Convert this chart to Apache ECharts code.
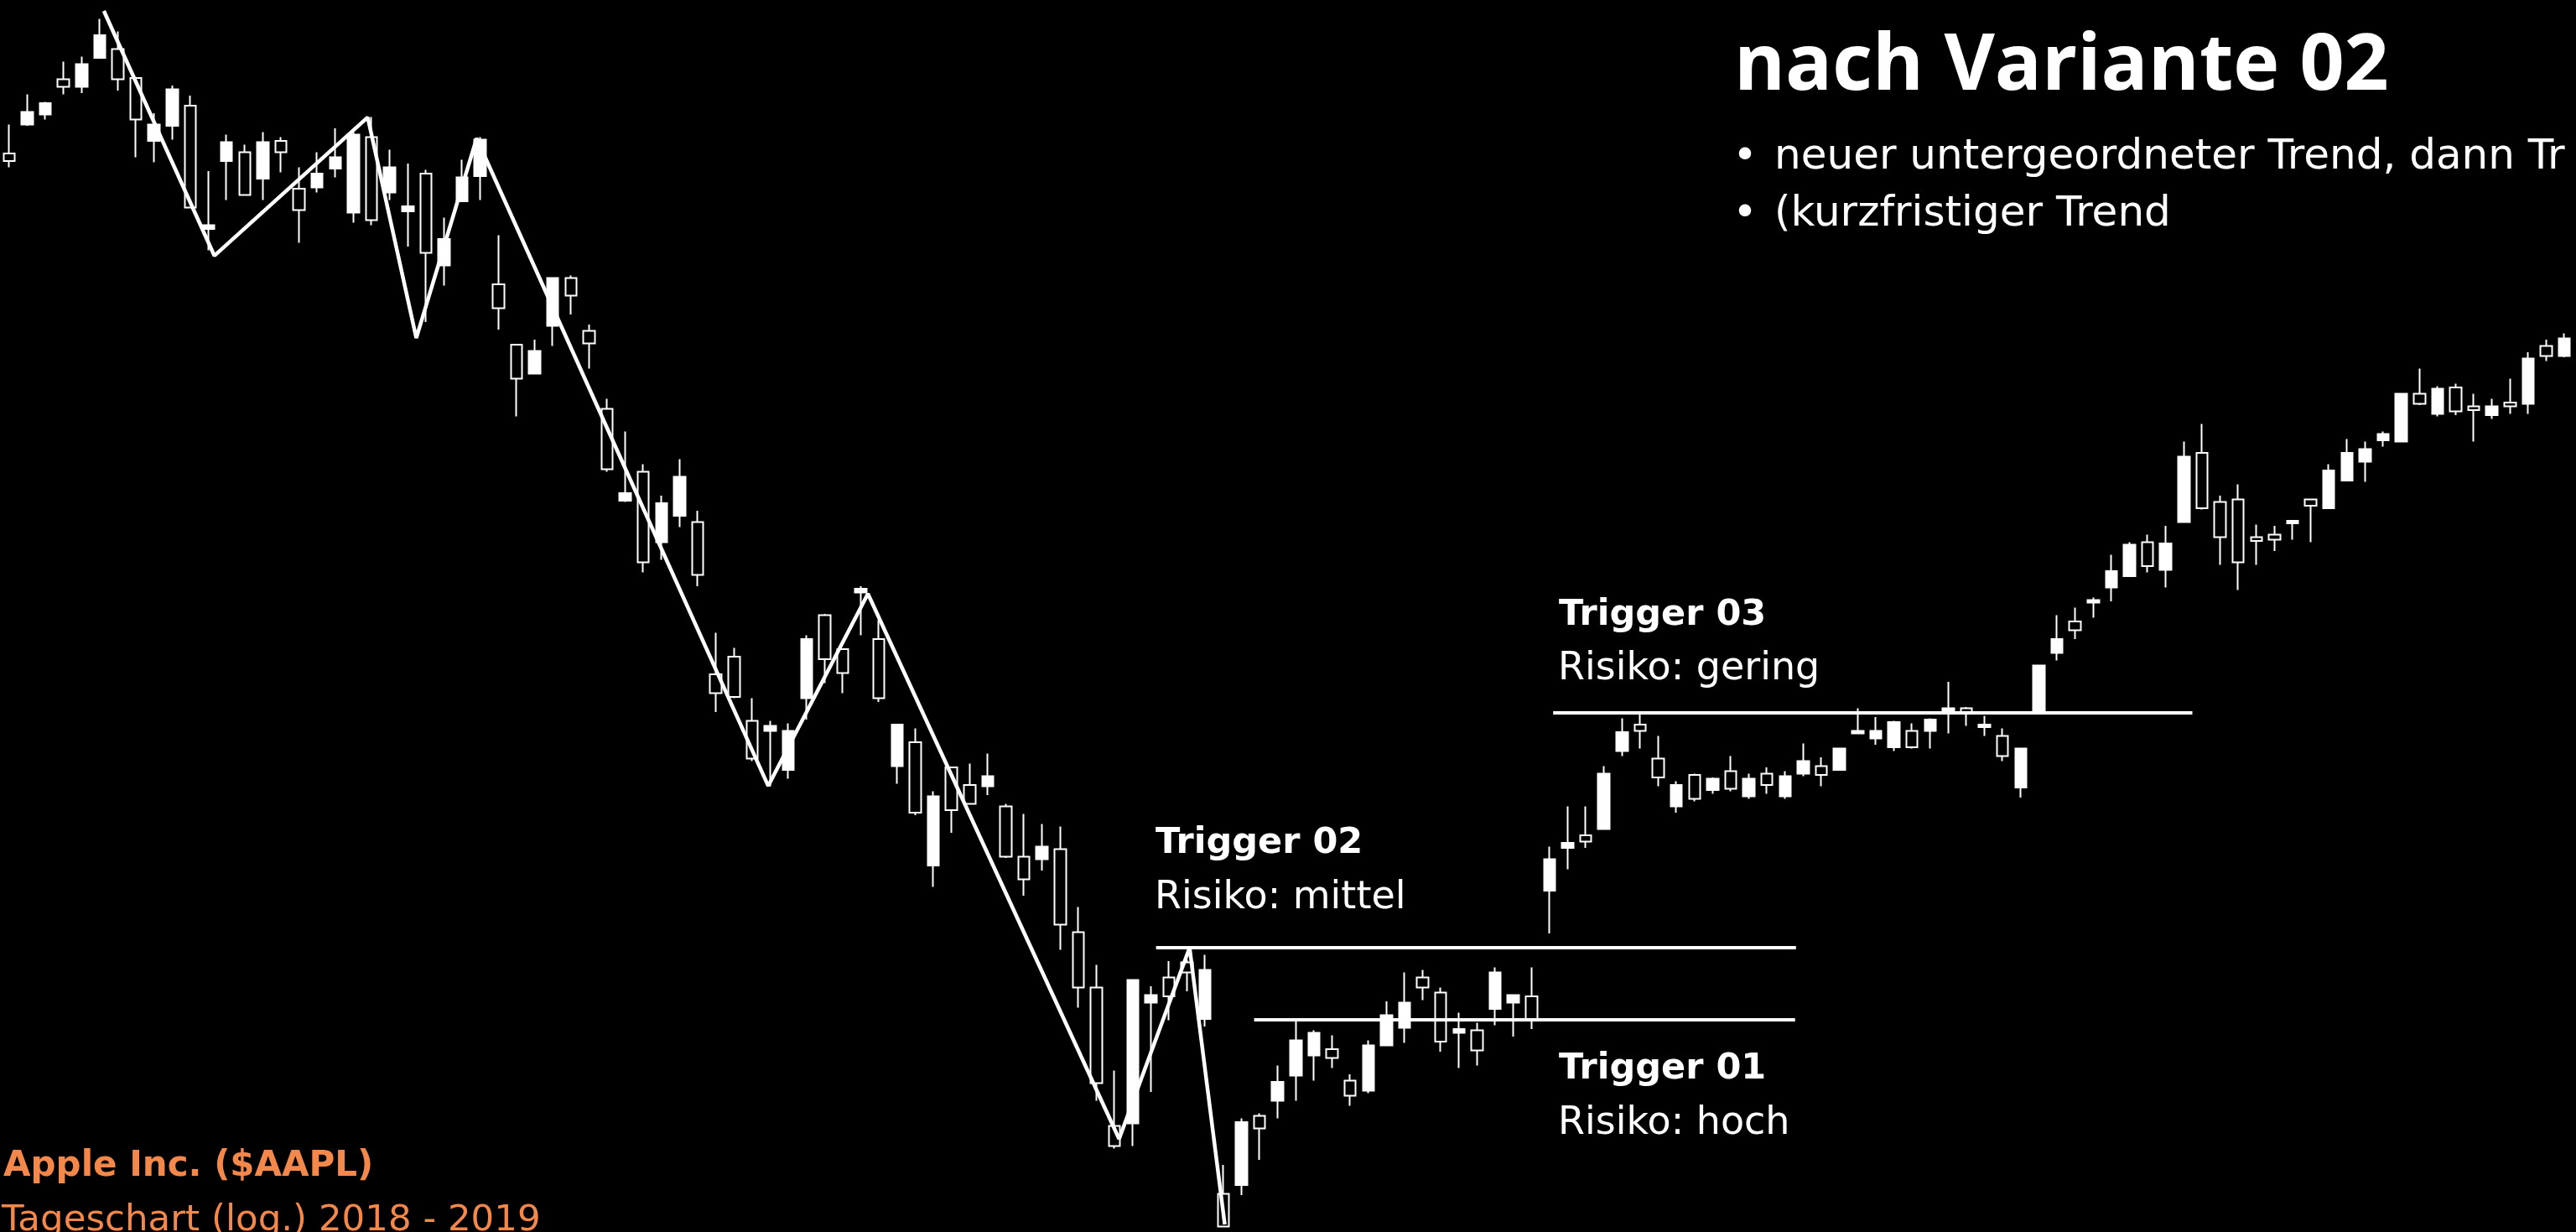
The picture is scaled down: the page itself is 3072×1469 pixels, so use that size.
<!DOCTYPE html>
<html>
<head>
<meta charset="utf-8">
<title>Apple Inc. Trigger</title>
<script src="https://cdn.jsdelivr.net/npm/echarts@6/dist/echarts.min.js"></script>
<style>
  html, body { margin: 0; padding: 0; background: #000; }
  #trigger { width: 3072px; height: 1469px; }
</style>
</head>
<body>
<div id="trigger"></div>
<script>
// Tageskerzen von links nach rechts (Kurs in USD)
const opens = [
  227.8, 230.1, 230.9, 233.7, 233.1, 235.4, 236.1, 233.8, 228.8, 230.0,
  231.6, 221.8, 227.2, 227.9, 225.8, 228.8, 225.0, 225.1, 226.6, 223.1,
  229.1, 224.7, 223.2, 226.2, 218.9, 224.0, 226.0, 217.4, 212.6, 210.3,
  214.1, 217.9, 213.7, 207.5, 200.2, 202.5, 196.9, 199.0, 198.5, 186.4,
  187.8, 182.7, 181.9, 178.8, 184.5, 191.1, 188.4, 192.9, 189.2, 179.1,
  181.0, 171.2, 179.0, 177.6, 177.5, 175.9, 171.9, 171.7, 172.5, 165.9,
  161.5, 150.5, 150.7, 160.3, 162.3, 163.5, 159.0, 145.1, 145.8, 151.3,
  152.5, 154.5, 156.1, 156.6, 154.1, 153.3, 156.9, 158.3, 162.3, 161.1,
  157.9, 158.1, 159.8, 160.3, 160.8, 169.2, 172.6, 173.6, 174.1, 180.3,
  182.4, 179.7, 175.9, 178.4, 177.2, 178.7, 176.7, 178.5, 176.7, 178.5,
  179.1, 178.8, 181.7, 181.3, 180.6, 181.9, 181.9, 183.4, 183.7, 182.2,
  181.5, 177.4, 183.4, 188.1, 190.6, 192.1, 193.3, 194.2, 196.9, 194.7,
  198.5, 204.0, 200.1, 200.3, 197.3, 197.5, 198.4, 200.3, 199.6, 201.8,
  203.3, 205.0, 204.9, 208.7, 207.1, 209.2, 207.7, 207.0, 208.0, 207.9,
  212.5, 211.7
];
const closes = [
  227.2, 231.1, 231.8, 233.1, 234.9, 237.2, 233.7, 230.5, 230.1, 232.9,
  223.5, 222.1, 228.7, 224.5, 228.7, 227.9, 223.3, 226.2, 227.5, 229.3,
  222.5, 226.7, 223.6, 219.9, 221.0, 225.9, 228.9, 215.5, 209.9, 212.1,
  217.9, 216.5, 212.7, 202.7, 200.8, 195.3, 200.0, 202.1, 194.3, 184.9,
  184.6, 179.7, 182.3, 181.9, 189.2, 187.6, 186.5, 193.2, 184.5, 182.4,
  175.4, 176.7, 175.6, 176.1, 178.3, 171.9, 170.1, 172.7, 166.5, 161.5,
  153.9, 148.9, 162.1, 160.9, 160.8, 162.7, 162.9, 142.5, 150.8, 150.3,
  154.0, 157.3, 157.9, 155.9, 152.9, 156.9, 159.3, 160.3, 161.5, 157.2,
  158.2, 156.5, 162.7, 160.9, 158.9, 171.7, 173.0, 173.1, 178.5, 181.8,
  181.9, 178.2, 177.6, 176.5, 178.1, 177.3, 178.1, 177.6, 178.3, 179.5,
  178.4, 180.5, 181.9, 181.9, 182.6, 180.6, 182.8, 183.7, 183.4, 182.4,
  179.9, 180.5, 187.1, 189.2, 189.9, 192.3, 194.6, 196.7, 195.0, 196.8,
  203.7, 199.6, 197.3, 195.3, 197.0, 197.1, 198.6, 199.8, 202.6, 204.0,
  204.3, 205.5, 208.7, 207.9, 209.1, 207.3, 207.4, 207.7, 207.7, 211.5,
  211.7, 213.1
];
const lows = [
  226.7, 230.0, 230.5, 232.5, 232.6, 235.4, 232.8, 227.5, 227.1, 228.9,
  223.5, 220.1, 224.1, 224.5, 224.1, 226.3, 220.7, 224.7, 225.9, 222.3,
  222.1, 224.1, 220.4, 214.4, 217.3, 224.0, 224.1, 213.8, 206.9, 210.3,
  212.5, 215.0, 210.7, 202.5, 200.1, 194.5, 195.5, 198.1, 193.4, 183.4,
  184.5, 179.5, 177.5, 178.1, 182.8, 185.7, 184.9, 189.5, 184.2, 177.7,
  175.2, 169.5, 173.8, 176.1, 176.8, 171.8, 168.8, 170.8, 164.5, 159.9,
  152.5, 148.7, 148.9, 153.2, 158.9, 161.2, 158.4, 142.5, 145.0, 147.8,
  151.1, 152.5, 154.1, 155.1, 152.1, 153.1, 156.9, 157.1, 160.5, 156.4,
  155.1, 155.3, 158.5, 157.6, 158.2, 165.8, 170.9, 172.6, 174.1, 179.9,
  180.5, 177.5, 175.4, 176.3, 176.9, 177.1, 176.5, 176.9, 176.5, 178.3,
  177.5, 178.8, 181.7, 180.8, 180.3, 180.5, 180.5, 181.7, 182.3, 181.5,
  179.5, 176.6, 183.4, 187.5, 189.2, 190.9, 192.2, 194.2, 194.5, 193.3,
  198.5, 199.5, 195.1, 193.1, 195.1, 196.2, 197.1, 196.9, 199.6, 201.8,
  201.7, 204.5, 204.9, 207.8, 206.9, 207.0, 204.9, 206.7, 207.1, 207.1,
  211.3, 211.6
];
const highs = [
  230.1, 232.5, 231.9, 235.1, 235.5, 238.5, 237.5, 233.8, 231.0, 233.2,
  232.4, 226.4, 229.3, 228.5, 229.5, 229.1, 226.7, 227.9, 229.8, 229.5,
  230.7, 228.1, 227.0, 226.5, 222.7, 227.3, 229.1, 221.3, 212.6, 213.0,
  217.9, 218.1, 214.2, 208.3, 205.7, 203.1, 200.6, 203.5, 199.4, 189.7,
  188.5, 184.5, 182.7, 182.5, 189.5, 191.2, 188.4, 193.4, 190.7, 182.4,
  182.1, 177.1, 179.0, 179.3, 180.1, 176.1, 175.3, 174.5, 174.3, 167.9,
  163.3, 154.9, 162.1, 161.6, 163.6, 163.7, 164.1, 147.4, 151.1, 151.5,
  155.3, 158.8, 158.1, 157.7, 154.6, 157.3, 160.4, 162.7, 162.9, 161.5,
  159.5, 158.7, 163.1, 160.9, 163.1, 172.7, 175.9, 175.9, 179.1, 182.9,
  183.3, 181.5, 177.9, 178.5, 178.2, 179.9, 178.5, 179.0, 178.7, 180.9,
  179.8, 180.5, 183.7, 183.0, 182.7, 182.5, 182.9, 185.8, 183.8, 183.1,
  182.1, 180.5, 187.1, 191.1, 191.7, 192.5, 195.9, 196.9, 197.5, 198.2,
  204.9, 206.3, 200.6, 201.5, 198.3, 198.2, 198.6, 200.3, 203.1, 205.1,
  204.9, 205.7, 208.7, 210.7, 209.3, 209.5, 208.7, 208.3, 209.9, 212.0,
  213.0, 213.5
];

// Zickzack der Trendbewegung (Position in Kerzen, Kurs)
const zigzagPos = [5.23, 11.33, 19.79, 22.47, 25.8, 41.89, 47.39, 61.25, 65.14, 67.08];
const zigzagKurs = [239.13, 219.67, 230.67, 213.13, 229.0, 177.53, 192.8, 149.47, 164.67, 142.67];

// Trigger-Linien
const triggerLevels = [158.93, 164.67, 183.33];
const triggerFrom = [68.7, 63.29, 85.2];
const triggerTo = [98.55, 98.6, 120.47];

const days = opens.map((_, i) => String(i + 1));
const candles = opens.map((o, i) => [o, closes[i], lows[i], highs[i]]);

const white = "#ffffff";
const orange = "#f3884a";

function label(text, x, y, font, fill, align) {
  return {
    type: "text",
    x: x,
    y: y,
    silent: true,
    style: {
      text: text,
      font: font,
      fill: fill || white,
      align: align || "left",
      verticalAlign: "middle",
    },
  };
}

const chart = echarts.init(document.getElementById("trigger"));
chart.setOption({
  animation: false,
  backgroundColor: "#000",
  grid: { left: -3, right: 3, top: 0, bottom: 0 },
  xAxis: [
    { type: "category", data: days, boundaryGap: true, show: false },
    { type: "value", min: -0.5, max: opens.length - 0.5, show: false },
  ],
  yAxis: {
    type: "value",
    min: 240 - 1469 / 15,
    max: 240,
    show: false,
  },
  series: [
    {
      type: "candlestick",
      data: candles,
      barWidth: 14,
      itemStyle: {
        color: white,
        color0: "#000",
        borderColor: white,
        borderColor0: white,
        borderColorDoji: white,
        borderWidth: 2,
      },
    },
    {
      type: "line",
      xAxisIndex: 1,
      data: zigzagPos.map((p, i) => [p, zigzagKurs[i]]),
      symbol: "none",
      z: 3,
      lineStyle: { color: white, width: 4.5 },
    },
    ...triggerLevels.map((lvl, i) => ({
      type: "line",
      xAxisIndex: 1,
      data: [
        [triggerFrom[i], lvl],
        [triggerTo[i], lvl],
      ],
      symbol: "none",
      z: 3,
      lineStyle: { color: white, width: 4 },
    })),
  ],
  graphic: [
    label("nach Variante 02", 2068, 80, 'bold 93px "Open Sans"'),
    label("•", 2081, 188, '50px "DejaVu Sans"', white, "center"),
    label("neuer untergeordneter Trend, dann Tr", 2116, 188, '50px "DejaVu Sans"'),
    label("•", 2081, 256, '50px "DejaVu Sans"', white, "center"),
    label("(kurzfristiger Trend", 2116, 256, '50px "DejaVu Sans"'),
    label("Trigger 03", 1859, 734, 'bold 43px "DejaVu Sans"'),
    label("Risiko: gering", 1858, 798, '46px "DejaVu Sans"'),
    label("Trigger 02", 1378, 1006, 'bold 43px "DejaVu Sans"'),
    label("Risiko: mittel", 1377, 1071, '46px "DejaVu Sans"'),
    label("Trigger 01", 1859, 1275, 'bold 43px "DejaVu Sans"'),
    label("Risiko: hoch", 1858, 1340, '46px "DejaVu Sans"'),
    label("Apple Inc. ($AAPL)", 4, 1391, 'bold 42px "DejaVu Sans"', orange),
    label("Tageschart (log.) 2018 - 2019", 2, 1456, '43.5px "DejaVu Sans"', orange),
  ],
});
</script>
</body>
</html>
